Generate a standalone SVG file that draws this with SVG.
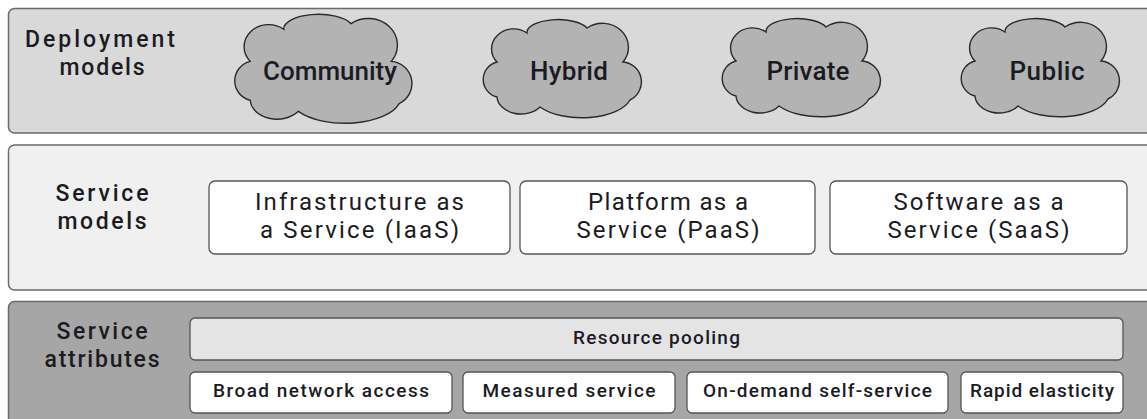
<svg xmlns="http://www.w3.org/2000/svg" xmlns:xlink="http://www.w3.org/1999/xlink" width="1147" height="419" viewBox="0 0 1147 419">
<style>
text{font-family:Roboto,"Liberation Sans",sans-serif;fill:#1b1b24;text-anchor:middle}
.lbl{font-size:23px;font-weight:500}
.cl{font-size:26px;font-weight:500}
.bx{font-size:24px;font-weight:400}
.sm{font-size:19px;font-weight:500}
.panel{stroke:#6a6a6a;stroke-width:1.5}
.wbox{fill:#ffffff;stroke:#555555;stroke-width:1.3}
.cloud{fill:#b3b3b3;stroke:#2a2a2a;stroke-width:1.4;vector-effect:non-scaling-stroke}
</style>
<defs>
<path id="cloudShape" class="cloud" d="M10,40 A22,20 0 0,1 40,11 A31,13 0 0,1 100,6 A26,24 0 0,1 136,40 A20,20 0 0,1 143,78 A50,24 0 0,1 53,85 A24,18 0 0,1 10,75 A18,18 0 0,1 10,40 Z"/>
</defs>
<rect width="1147" height="419" fill="#ffffff"/>
<g id="deployment-panel">
<rect class="panel" x="8.5" y="8.5" width="1150" height="124.5" rx="6" fill="#d9d9d9"/>
<text class="lbl" x="100" y="47" textLength="150">Deployment</text>
<text class="lbl" x="102" y="75" textLength="85">models</text>
</g>
<g id="cloud-community">
<use xlink:href="#cloudShape" transform="translate(239,17) scale(1.12,1.11)"/>
<text class="cl" x="330" y="80" textLength="134">Community</text>
</g>
<g id="cloud-hybrid">
<use xlink:href="#cloudShape" transform="translate(487,22)"/>
<text class="cl" x="569" y="80" textLength="78">Hybrid</text>
</g>
<g id="cloud-private">
<use xlink:href="#cloudShape" transform="translate(726,21)"/>
<text class="cl" x="808" y="80" textLength="83">Private</text>
</g>
<g id="cloud-public">
<use xlink:href="#cloudShape" transform="translate(965,21)"/>
<text class="cl" x="1047" y="80" textLength="75">Public</text>
</g>
<g id="service-models-panel">
<rect class="panel" x="8.5" y="145" width="1150" height="145" rx="6" fill="#f0f0f0"/>
<text class="lbl" x="102" y="201" textLength="93">Service</text>
<text class="lbl" x="102" y="229" textLength="89">models</text>
</g>
<g id="iaas">
<rect class="wbox" x="209" y="181" width="301" height="73" rx="6"/>
<text class="bx" x="359.5" y="210" textLength="209">Infrastructure as</text>
<text class="bx" x="359.5" y="238" textLength="199">a Service (IaaS)</text>
</g>
<g id="paas">
<rect class="wbox" x="520" y="181" width="295" height="73" rx="6"/>
<text class="bx" x="668" y="210" textLength="160">Platform as a</text>
<text class="bx" x="668" y="238" textLength="183">Service (PaaS)</text>
</g>
<g id="saas">
<rect class="wbox" x="830" y="181" width="297" height="73" rx="6"/>
<text class="bx" x="978.5" y="210" textLength="170">Software as a</text>
<text class="bx" x="978.5" y="238" textLength="182">Service (SaaS)</text>
</g>
<g id="service-attributes-panel">
<rect class="panel" x="8.5" y="301.5" width="1150" height="140" rx="6" fill="#a6a6a6"/>
<text class="lbl" x="102" y="339" textLength="91">Service</text>
<text class="lbl" x="102" y="367" textLength="115">attributes</text>
</g>
<g id="resource-pooling">
<rect class="wbox" x="190" y="318" width="933" height="42" rx="5" style="fill:#e4e4e4"/>
<text class="sm" x="656.5" y="344" textLength="167">Resource pooling</text>
</g>
<g id="broad-network-access">
<rect class="wbox" x="190" y="372" width="262" height="41" rx="5"/>
<text class="sm" x="321" y="397" textLength="216">Broad network access</text>
</g>
<g id="measured-service">
<rect class="wbox" x="463" y="372" width="212" height="41" rx="5"/>
<text class="sm" x="569" y="397" textLength="173">Measured service</text>
</g>
<g id="on-demand">
<rect class="wbox" x="687" y="372" width="261" height="41" rx="5"/>
<text class="sm" x="817.5" y="397" textLength="229">On-demand self-service</text>
</g>
<g id="rapid-elasticity">
<rect class="wbox" x="961" y="372" width="162" height="41" rx="5"/>
<text class="sm" x="1042" y="397" textLength="144">Rapid elasticity</text>
</g>
<g id="connectors"></g>
</svg>
